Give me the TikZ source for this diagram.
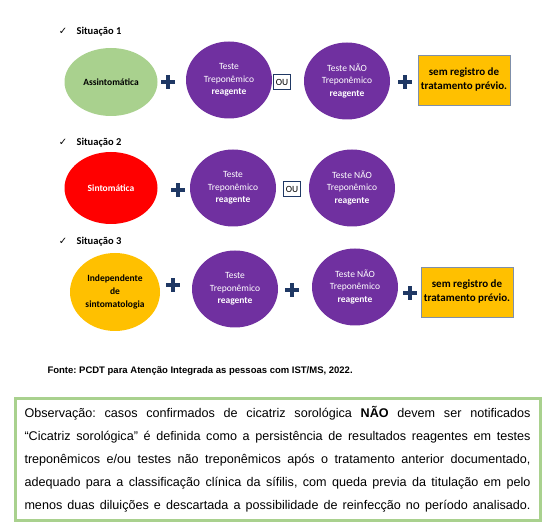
\documentclass[tikz,border=0pt]{standalone}
\usepackage{fontspec}
\setmainfont{Carlito}
\newfontfamily\arialfont{Liberation Sans}
\newfontfamily\symfont{DejaVu Sans}
\usetikzlibrary{shapes.geometric}
\frenchspacing
\definecolor{leafgreen}{HTML}{A9D18E}
\definecolor{violet}{HTML}{7030A0}
\definecolor{amber}{HTML}{FFC000}
\definecolor{navy}{HTML}{1F3864}
\definecolor{boxedge}{HTML}{7F8FA9}
\tikzset{
  state/.style={
    ellipse,
    inner sep=0pt,
    minimum width=93pt,
    minimum height=68pt,
    align=center,
    font=\fontsize{9.5}{13}\selectfont\bfseries
  },
  testnode/.style={
    ellipse,
    fill=violet,
    inner sep=0pt,
    minimum width=86pt,
    minimum height=77pt,
    align=center,
    text=white,
    font=\fontsize{9.5}{12.5}\selectfont
  },
  orbox/.style={
    draw=navy,
    line width=1.3pt,
    fill=white,
    inner sep=0pt,
    minimum width=17pt,
    minimum height=15pt,
    font=\fontsize{9.5}{10}\selectfont
  },
  recordbox/.style={
    rectangle,
    draw=boxedge,
    fill=amber,
    inner sep=0pt,
    minimum width=92pt,
    minimum height=50pt,
    align=center,
    font=\fontsize{11}{14}\selectfont\bfseries
  },
  plussign/.style={
    inner sep=0pt,
    minimum size=15pt,
    path picture={
      \fill[navy] ([xshift=-7pt,yshift=-2.3pt]path picture bounding box.center)
        rectangle ++(14pt,4.6pt);
      \fill[navy] ([xshift=-2.3pt,yshift=-7pt]path picture bounding box.center)
        rectangle ++(4.6pt,14pt);
    }
  },
  heading/.style={anchor=west,font=\fontsize{10.5}{12}\selectfont\bfseries},
  tick/.style={font=\symfont\fontsize{10}{10}\selectfont}
}

\begin{document}
\begin{tikzpicture}[x=1pt,y=-1pt]
  \useasboundingbox (0,0) rectangle (552,529);

  % Situation 1: asymptomatic case.
  \node[tick] (k1) at (63,31) {✓};
  \node[heading] (h1) at (73,32) {Situação 1};
  \node[state,fill=leafgreen] (s1) at (111,82) {Assintomática};
  \node[plussign] (p1a) at (168,82) {};
  \node[testnode] (t1) at (229,80) {Teste\\Treponêmico\\\textbf{reagente}};
  \node[orbox] (o1) at (282,82) {OU};
  \node[testnode] (n1) at (347,81) {Teste NÃO\\Treponêmico\\\textbf{reagente}};
  \node[plussign] (p1b) at (405,82) {};
  \node[recordbox] (r1) at (464,80) {sem registro de\\tratamento prévio.};

  % Situation 2: symptomatic case.
  \node[tick] (k2) at (63,142) {✓};
  \node[heading] (h2) at (73,143) {Situação 2};
  \node[state,fill=red,text=white,minimum height=72pt] (s2) at (111,188)
    {Sintomática};
  \node[plussign] (p2a) at (178,190) {};
  \node[testnode] (t2) at (233,188) {Teste\\Treponêmico\\\textbf{reagente}};
  \node[orbox] (o2) at (292,189) {OU};
  \node[testnode] (n2) at (352,188) {Teste NÃO\\Treponêmico\\\textbf{reagente}};

  % Situation 3: regardless of symptoms.
  \node[tick] (k3) at (63,241) {✓};
  \node[heading] (h3) at (73,242) {Situação 3};
  \node[state,fill=amber,minimum width=90pt,minimum height=78pt] (s3) at (115,292)
    {Independente\\de\\sintomatologia};
  \node[plussign] (p3a) at (173,285) {};
  \node[testnode] (t3) at (235,289) {Teste\\Treponêmico\\\textbf{reagente}};
  \node[plussign] (p3b) at (292,290) {};
  \node[testnode] (n3) at (355,287) {Teste NÃO\\Treponêmico\\\textbf{reagente}};
  \node[plussign] (p3c) at (410,293) {};
  \node[recordbox] (r3) at (467,292) {sem registro de\\tratamento prévio.};

  % Source line.
  \node[anchor=west,font=\arialfont\fontsize{9.5}{11}\selectfont\bfseries] (src)
    at (44,371) {Fonte: PCDT para Atenção Integrada as pessoas com IST/MS, 2022.};

  % Note box.
  \node[draw=leafgreen,line width=3pt,minimum width=525pt,minimum height=122pt,
    inner sep=0pt,align=left,font=\arialfont\fontsize{12.6}{23}\selectfont] (obs)
    at (277.5,459.5)
    {\makebox[506pt][s]{Observação: casos confirmados de cicatriz sorológica \textbf{NÃO} devem ser notificados}\\
     \makebox[506pt][s]{“Cicatriz sorológica” é definida como a persistência de resultados reagentes em testes}\\
     \makebox[506pt][s]{treponêmicos e/ou testes não treponêmicos após o tratamento anterior documentado,}\\
     \makebox[506pt][s]{adequado para a classificação clínica da sífilis, com queda previa da titulação em pelo}\\
     \makebox[506pt][s]{menos duas diluições e descartada a possibilidade de reinfecção no período analisado.}};
\end{tikzpicture}
\end{document}
